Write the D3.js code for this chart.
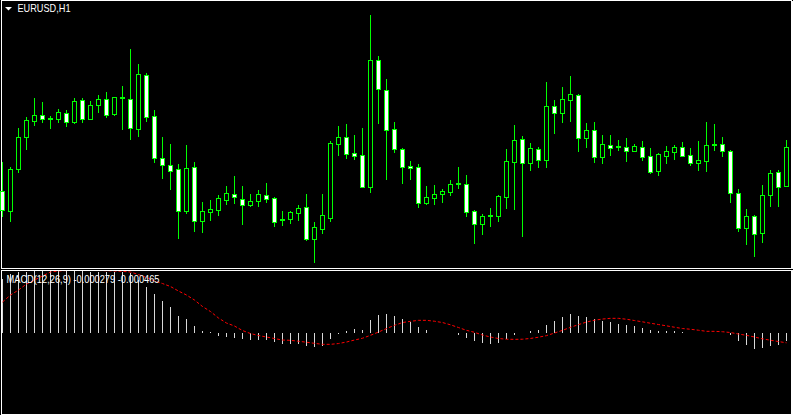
<!DOCTYPE html>
<html lang="en">
<head>
<meta charset="utf-8" />
<title>EURUSD,H1</title>
<script src="https://cdn.jsdelivr.net/npm/d3@7"></script>
<style>
  html, body { margin: 0; padding: 0; background: #000; overflow: hidden; }
  svg { display: block; }
</style>
</head>
<body>
<svg id="chart" width="793" height="415"></svg>
<script>
// EURUSD H1 bars
const openP = [
  1.08427, 1.08367, 1.08493, 1.08589, 1.08637, 1.08655, 1.08646, 1.08643, 1.08661, 1.08634,
  1.08700, 1.08643, 1.08685, 1.08703, 1.08658, 1.08709, 1.08703, 1.08613, 1.08775, 1.08652,
  1.08526, 1.08505, 1.08493, 1.08367, 1.08499, 1.08337, 1.08364, 1.08370, 1.08400, 1.08418,
  1.08403, 1.08385, 1.08397, 1.08415, 1.08406, 1.08343, 1.08343, 1.08361, 1.08379, 1.08283,
  1.08313, 1.08346, 1.08568, 1.08589, 1.08541, 1.08535, 1.08439, 1.08820, 1.08730, 1.08613,
  1.08553, 1.08502, 1.08499, 1.08391, 1.08406, 1.08418, 1.08424, 1.08451, 1.08448, 1.08367,
  1.08328, 1.08355, 1.08352, 1.08409, 1.08514, 1.08583, 1.08511, 1.08553, 1.08520, 1.08682,
  1.08661, 1.08700, 1.08715, 1.08586, 1.08610, 1.08529, 1.08565, 1.08562, 1.08559, 1.08547,
  1.08559, 1.08532, 1.08487, 1.08532, 1.08544, 1.08559, 1.08535, 1.08511, 1.08517, 1.08568,
  1.08568, 1.08547, 1.08421, 1.08316, 1.08352, 1.08301, 1.08415, 1.08484, 1.08442
];
const highP = [
  1.08514, 1.08499, 1.08616, 1.08649, 1.08706, 1.08694, 1.08652, 1.08673, 1.08670, 1.08706,
  1.08706, 1.08697, 1.08715, 1.08724, 1.08709, 1.08742, 1.08853, 1.08808, 1.08781, 1.08670,
  1.08589, 1.08568, 1.08508, 1.08565, 1.08514, 1.08394, 1.08400, 1.08415, 1.08442, 1.08472,
  1.08442, 1.08418, 1.08430, 1.08451, 1.08409, 1.08367, 1.08367, 1.08385, 1.08418, 1.08334,
  1.08418, 1.08577, 1.08622, 1.08628, 1.08595, 1.08616, 1.08955, 1.08832, 1.08763, 1.08634,
  1.08556, 1.08517, 1.08508, 1.08442, 1.08445, 1.08433, 1.08460, 1.08499, 1.08475, 1.08370,
  1.08358, 1.08376, 1.08415, 1.08553, 1.08625, 1.08592, 1.08571, 1.08559, 1.08754, 1.08700,
  1.08739, 1.08772, 1.08718, 1.08631, 1.08634, 1.08595, 1.08595, 1.08580, 1.08586, 1.08568,
  1.08577, 1.08556, 1.08541, 1.08562, 1.08565, 1.08574, 1.08556, 1.08577, 1.08634, 1.08628,
  1.08589, 1.08550, 1.08433, 1.08373, 1.08355, 1.08445, 1.08490, 1.08490, 1.08580
];
const lowP = [
  1.08352, 1.08337, 1.08484, 1.08553, 1.08625, 1.08634, 1.08616, 1.08634, 1.08622, 1.08631,
  1.08634, 1.08643, 1.08664, 1.08649, 1.08655, 1.08613, 1.08583, 1.08592, 1.08637, 1.08514,
  1.08466, 1.08433, 1.08286, 1.08361, 1.08307, 1.08304, 1.08340, 1.08355, 1.08388, 1.08391,
  1.08328, 1.08382, 1.08382, 1.08394, 1.08322, 1.08325, 1.08331, 1.08340, 1.08280, 1.08214,
  1.08301, 1.08337, 1.08535, 1.08526, 1.08523, 1.08439, 1.08424, 1.08631, 1.08463, 1.08544,
  1.08451, 1.08463, 1.08379, 1.08388, 1.08388, 1.08394, 1.08415, 1.08436, 1.08352, 1.08271,
  1.08298, 1.08322, 1.08337, 1.08376, 1.08373, 1.08292, 1.08490, 1.08499, 1.08499, 1.08601,
  1.08634, 1.08637, 1.08547, 1.08559, 1.08514, 1.08511, 1.08535, 1.08550, 1.08517, 1.08547,
  1.08520, 1.08481, 1.08475, 1.08511, 1.08523, 1.08532, 1.08505, 1.08490, 1.08487, 1.08550,
  1.08532, 1.08394, 1.08307, 1.08268, 1.08232, 1.08274, 1.08382, 1.08382, 1.08442
];
const closeP = [
  1.08370, 1.08493, 1.08589, 1.08640, 1.08655, 1.08643, 1.08643, 1.08664, 1.08634, 1.08697,
  1.08643, 1.08685, 1.08703, 1.08655, 1.08709, 1.08706, 1.08616, 1.08778, 1.08649, 1.08526,
  1.08505, 1.08487, 1.08367, 1.08496, 1.08337, 1.08367, 1.08373, 1.08406, 1.08421, 1.08409,
  1.08385, 1.08397, 1.08418, 1.08403, 1.08334, 1.08340, 1.08364, 1.08376, 1.08283, 1.08319,
  1.08355, 1.08571, 1.08589, 1.08538, 1.08532, 1.08439, 1.08820, 1.08733, 1.08610, 1.08553,
  1.08499, 1.08496, 1.08391, 1.08409, 1.08418, 1.08427, 1.08448, 1.08448, 1.08364, 1.08328,
  1.08352, 1.08352, 1.08412, 1.08517, 1.08580, 1.08511, 1.08556, 1.08520, 1.08682, 1.08661,
  1.08703, 1.08718, 1.08586, 1.08610, 1.08529, 1.08568, 1.08556, 1.08559, 1.08547, 1.08562,
  1.08529, 1.08484, 1.08538, 1.08547, 1.08559, 1.08532, 1.08511, 1.08520, 1.08565, 1.08565,
  1.08547, 1.08421, 1.08316, 1.08352, 1.08298, 1.08415, 1.08481, 1.08439, 1.08559
];

// MACD(12,26,9): main line (histogram) and signal line
const macdMain = [
  0.001629, 0.001779, 0.001839, 0.001854, 0.001869, 0.001869, 0.001869, 0.001869, 0.001869, 0.001869,
  0.001869, 0.001854, 0.001839, 0.001839, 0.001839, 0.001839, 0.001809, 0.001599, 0.001380, 0.001179,
  0.000969, 0.000789, 0.000519, 0.000429, 0.000219, 0.000069, 0.000039, -0.000081, -0.000111, -0.000141,
  -0.000171, -0.000201, -0.000201, -0.000201, -0.000261, -0.000321, -0.000321, -0.000321, -0.000381, -0.000411,
  -0.000381, -0.000171, -0.000021, 0.000069, 0.000129, 0.000099, 0.000399, 0.000549, 0.000579, 0.000519,
  0.000420, 0.000348, 0.000189, 0.000099, 0.000024, 0.000024, 0.000024, -0.000051, -0.000141, -0.000231,
  -0.000291, -0.000321, -0.000291, -0.000171, -0.000051, 0.000000, 0.000069, 0.000099, 0.000249, 0.000369,
  0.000489, 0.000579, 0.000519, 0.000489, 0.000429, 0.000378, 0.000339, 0.000279, 0.000249, 0.000219,
  0.000159, 0.000099, 0.000069, 0.000069, 0.000069, 0.000039, 0.000024, 0.000000, 0.000024, 0.000024,
  0.000024, -0.000051, -0.000231, -0.000351, -0.000471, -0.000441, -0.000381, -0.000351, -0.000240
];
const macdSignal = [
  0.000939, 0.001149, 0.001299, 0.001479, 0.001599, 0.001719, 0.001839, 0.001869, 0.001884, 0.001890,
  0.001890, 0.001890, 0.001884, 0.001878, 0.001869, 0.001860, 0.001839, 0.001764, 0.001674, 0.001569,
  0.001494, 0.001404, 0.001269, 0.001149, 0.000999, 0.000804, 0.000654, 0.000459, 0.000309, 0.000219,
  0.000084, -0.000006, -0.000066, -0.000111, -0.000156, -0.000201, -0.000210, -0.000237, -0.000267, -0.000300,
  -0.000330, -0.000330, -0.000306, -0.000261, -0.000201, -0.000147, -0.000060, 0.000039, 0.000144, 0.000240,
  0.000324, 0.000360, 0.000390, 0.000390, 0.000363, 0.000324, 0.000255, 0.000174, 0.000090, 0.000030,
  -0.000051, -0.000111, -0.000156, -0.000177, -0.000180, -0.000177, -0.000153, -0.000117, -0.000069, 0.000009,
  0.000090, 0.000180, 0.000261, 0.000339, 0.000393, 0.000429, 0.000450, 0.000450, 0.000423, 0.000384,
  0.000345, 0.000303, 0.000264, 0.000225, 0.000183, 0.000144, 0.000123, 0.000093, 0.000060, 0.000060,
  0.000048, 0.000024, -0.000021, -0.000060, -0.000111, -0.000165, -0.000207, -0.000246, -0.000285
];

const priceTicks = [1.0890, 1.0880, 1.0870, 1.0860, 1.0850, 1.0840, 1.0830, 1.0820];
const macdTicks = [0.0019, 0];
const symbolLabel = "EURUSD,H1";
const macdLabel = "MACD(12,26,9) -0.000279 -0.000465";

const bars = closeP.map((c, i) => ({ i: i, o: openP[i], h: highP[i], l: lowP[i], c: c }));

const svg = d3.select("#chart")
  .attr("shape-rendering", "crispEdges");

const width = 793, height = 415;
svg.append("rect").attr("width", width).attr("height", height).attr("fill", "#000");

var x = d3.scaleLinear()
  .domain([0, bars.length - 1])
  .range([2.5, 786.5]);

var y = d3.scaleLinear()
  .domain([1.08196, 1.09])
  .range([268, 0]);

var yM = d3.scaleLinear()
  .domain([-0.00242, 0.0019])
  .range([414, 270]);

// window frames
svg.append("rect")
  .attr("x", 1.5).attr("y", 0.5).attr("width", 790).attr("height", 268)
  .attr("fill", "none").attr("stroke", "#fff");
svg.append("rect")
  .attr("x", 1.5).attr("y", 270.5).attr("width", 790).attr("height", 144)
  .attr("fill", "none").attr("stroke", "#fff");

// candles
const candles = svg.append("g");
candles.selectAll("line")
  .data(bars)
  .join("line")
    .attr("x1", d => x(d.i)).attr("x2", d => x(d.i))
    .attr("y1", d => Math.round(y(d.h)))
    .attr("y2", d => Math.round(y(d.l)) + 1)
    .attr("stroke", "#00ff00");

candles.selectAll("rect")
  .data(bars)
  .join("rect")
    .attr("x", d => x(d.i) - 2)
    .attr("y", d => Math.round(y(Math.max(d.o, d.c))) + 0.5)
    .attr("width", 4)
    .attr("height", d => Math.max(1, Math.round(y(Math.min(d.o, d.c))) - Math.round(y(Math.max(d.o, d.c)))))
    .attr("fill", d => d.c >= d.o ? "#000" : "#fff")
    .attr("stroke", "#00ff00");

// MACD window
svg.append("clipPath").attr("id", "subclip")
  .append("rect").attr("x", 2).attr("y", 271).attr("width", 789).attr("height", 143);

const sub = svg.append("g").attr("clip-path", "url(#subclip)");
const y0 = Math.round(yM(0));

sub.selectAll("rect")
  .data(macdMain)
  .join("rect")
    .attr("x", (d, i) => x(i) - 0.5)
    .attr("y", d => d >= 0 ? Math.round(yM(d)) : y0)
    .attr("width", 1)
    .attr("height", d => Math.abs(Math.round(yM(d)) - y0))
    .attr("fill", "#d8d8d8");

sub.append("path")
  .datum(macdSignal)
  .attr("fill", "none")
  .attr("stroke", "#ff0000")
  .attr("stroke-width", 1)
  .attr("stroke-dasharray", "3,2")
  .attr("shape-rendering", "auto")
  .attr("d", d3.line().x((d, i) => x(i)).y(d => yM(d)));

// right-hand scale ticks (labels fall outside the picture)
svg.append("g")
  .attr("transform", "translate(791.5,0)")
  .attr("color", "#fff")
  .call(d3.axisRight(y).tickValues(priceTicks).tickSize(2).tickSizeOuter(0).tickFormat(""));
svg.append("g")
  .attr("transform", "translate(791.5,0)")
  .attr("color", "#fff")
  .call(d3.axisRight(yM).tickValues(macdTicks).tickSize(2).tickSizeOuter(0).tickFormat(""));

// labels
svg.append("path")
  .attr("d", "M5,7L12,7L8.5,10.5Z")
  .attr("fill", "#fff")
  .attr("shape-rendering", "auto");

svg.append("text")
  .attr("x", 17.5).attr("y", 12)
  .attr("fill", "#fff")
  .attr("font-family", "Liberation Sans, Arial, sans-serif")
  .attr("font-size", "11px")
  .attr("textLength", 53)
  .attr("lengthAdjust", "spacingAndGlyphs")
  .text(symbolLabel);

svg.append("text")
  .attr("x", 6.5).attr("y", 283)
  .attr("fill", "#fff")
  .attr("font-family", "Liberation Sans, Arial, sans-serif")
  .attr("font-size", "11px")
  .attr("textLength", 153)
  .attr("lengthAdjust", "spacingAndGlyphs")
  .text(macdLabel);
</script>
</body>
</html>
